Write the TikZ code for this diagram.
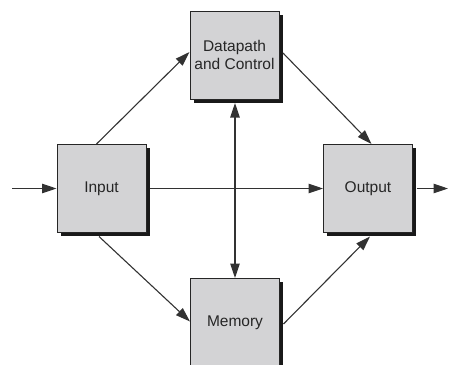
\documentclass[tikz,border=0pt]{standalone}
\usepackage{fontspec}
\setmainfont{Liberation Sans}
\usetikzlibrary{arrows.meta,shadows}
\definecolor{boxfill}{RGB}{211,211,213}
\definecolor{linegray}{RGB}{50,50,50}
\begin{document}
\begin{tikzpicture}[x=1pt,y=-1pt,
  unit/.style={draw=black!85,line width=1pt,fill=boxfill,
    minimum width=89pt,minimum height=88pt,inner sep=0pt,
    align=center,font=\fontsize{15.5}{18}\selectfont,text=black!85,
    drop shadow={shadow xshift=3.5pt,shadow yshift=-3.5pt,opacity=1,fill=black!90}},
  tip/.style={Triangle[length=14.5pt,width=9.5pt]},
  link/.style={draw=linegray,line width=1.1pt,-{Triangle[length=14.5pt,width=9.5pt]}}]
\useasboundingbox (0,0) rectangle (449,364);
\clip (0,0) rectangle (449,364);

% the four units of the computer
\node[unit] (dp)  at (234.5,55)  {Datapath\\and Control};
\node[unit] (in)  at (101.5,188.5) {Input};
\node[unit] (out) at (368,188.5) {Output};
\node[unit] (mem) at (235,322.5) {Memory};

% outside world
\coordinate (src) at (12,188.5);
\coordinate (dst) at (448,188.5);

% connections
\draw[link] (src) -- (in.west);
\draw[link] ([xshift=3.5pt]in.east) -- (out.west);
\draw[link] ([xshift=3.5pt]out.east) -- (dst);
\draw[link] ([xshift=-5pt]in.north) -- ([yshift=3pt]dp.west);
\draw[link] ([xshift=3.5pt,yshift=2pt]dp.east) -- ([xshift=3.5pt]out.north);
\draw[link] ([xshift=-2.5pt,yshift=-3.5pt]in.south) -- ([yshift=1pt]mem.west);
\draw[link] ([xshift=3.5pt,yshift=-1.5pt]mem.east) -- ([xshift=2pt,yshift=-3.5pt]out.south);
\draw[link,{Triangle[length=14.5pt,width=9.5pt]}-{Triangle[length=14.5pt,width=9.5pt]}]
  ([xshift=0.5pt,yshift=-3.5pt]dp.south) -- (mem.north);
\end{tikzpicture}
\end{document}
